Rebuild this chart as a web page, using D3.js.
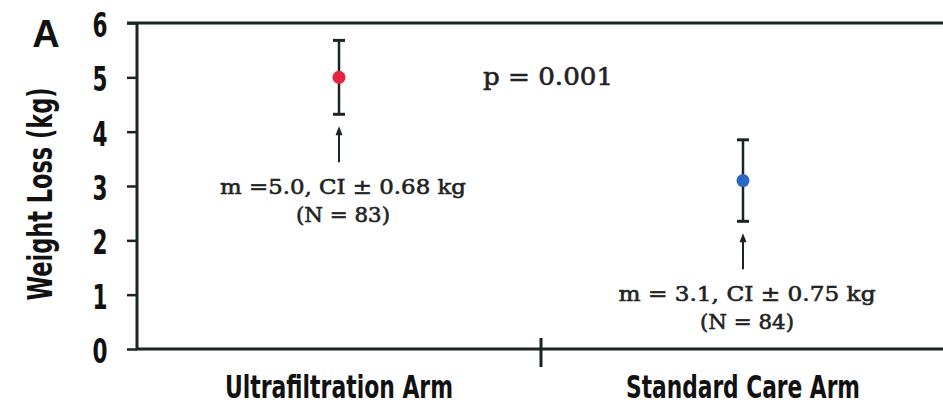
<!DOCTYPE html>
<html>
<head>
<meta charset="utf-8">
<script src="https://cdn.jsdelivr.net/npm/d3@7"></script>
<style>
  body { margin: 0; background: #fff; }
  .cond { font-family: "Liberation Sans Narrow", "DejaVu Sans Condensed", "Liberation Sans", sans-serif; font-weight: bold; }
  .serif { font-family: "DejaVu Serif", "Liberation Serif", serif; }
</style>
</head>
<body>
<script>
// data
var arms = ["Ultrafiltration Arm", "Standard Care Arm"];
var means = [5.0, 3.1];
var ci = [0.68, 0.75];
var nCount = [83, 84];
var dotColors = ["#e8243c", "#2a68c2"];
var noteLines = [["m =5.0, CI \u00b1 0.68 kg", "(N = 83)"], ["m = 3.1, CI \u00b1 0.75 kg", "(N = 84)"]];
var yTicks = [0, 1, 2, 3, 4, 5, 6];
var pText = "p = 0.001";

var W = 943, H = 411;
var ink = "#1b2421";

var svg = d3.select("body").append("svg")
    .attr("width", W).attr("height", H);

var x = d3.scaleBand().domain(arms).range([137, 945]).padding(0);
var y = d3.scaleLinear().domain([0, 6]).range([349, 23]);

// y axis ticks and labels
var yAxis = svg.append("g")
    .attr("transform", "translate(137,0)")
    .call(d3.axisLeft(y).tickValues(yTicks).tickSize(10).tickPadding(27).tickFormat(d3.format("d")));
yAxis.select(".domain").remove();
yAxis.selectAll(".tick line").attr("stroke", ink).attr("stroke-width", 2.5);
yAxis.selectAll(".tick text")
    .attr("class", "cond")
    .attr("fill", "#111")
    .attr("font-size", 34)
    .attr("textLength", 15)
    .attr("lengthAdjust", "spacingAndGlyphs")
    .attr("text-anchor", "middle")
    .attr("dy", "0.4em");

// frame: left, top, bottom (image is cropped on the right)
svg.append("path")
    .attr("d", "M127," + y(6) + "H" + W + "M137," + y(6) + "V" + y(0) + "H" + W)
    .attr("fill", "none").attr("stroke", ink).attr("stroke-width", 3);

// middle tick on x axis
svg.append("line")
    .attr("x1", x(arms[1])).attr("x2", x(arms[1]))
    .attr("y1", y(0) - 11).attr("y2", y(0) + 18)
    .attr("stroke", ink).attr("stroke-width", 3);

// x labels
svg.selectAll(".xlab").data(arms).enter().append("text")
    .attr("class", "cond")
    .attr("x", function(d){ return x(d) + x.bandwidth() / 2; })
    .attr("y", 398)
    .attr("text-anchor", "middle")
    .attr("font-size", 32)
    .attr("textLength", function(d, i){ return i == 0 ? 228 : 234; })
    .attr("lengthAdjust", "spacingAndGlyphs")
    .attr("fill", "#111")
    .text(function(d){ return d; });

// y title
svg.append("text")
    .attr("class", "cond")
    .attr("transform", "translate(52,194) rotate(-90)")
    .attr("text-anchor", "middle")
    .attr("font-size", 34)
    .attr("textLength", 213)
    .attr("lengthAdjust", "spacingAndGlyphs")
    .attr("fill", "#111")
    .text("Weight Loss (kg)");

// panel letter
svg.append("text")
    .attr("x", 46).attr("y", 47)
    .attr("text-anchor", "middle")
    .attr("font-family", "Liberation Sans, Arial, sans-serif")
    .attr("font-weight", "bold")
    .attr("font-size", 38)
    .attr("fill", "#111")
    .text("A");

// error bars
var pts = arms.map(function(a, i){ return {arm: a, m: means[i], ci: ci[i], n: nCount[i], color: dotColors[i], lines: noteLines[i]}; });
var cx = function(d){ return x(d.arm) + x.bandwidth() / 2; };

var g = svg.selectAll(".pt").data(pts).enter().append("g").attr("class", "pt");
g.append("line")
    .attr("x1", cx).attr("x2", cx)
    .attr("y1", function(d){ return y(d.m + d.ci); })
    .attr("y2", function(d){ return y(d.m - d.ci); })
    .attr("stroke", ink).attr("stroke-width", 2.5);
g.selectAll(".cap").data(function(d){ return [d.m + d.ci, d.m - d.ci].map(function(v){ return {x: cx(d), v: v}; }); })
    .enter().append("line")
    .attr("x1", function(c){ return c.x - 6; }).attr("x2", function(c){ return c.x + 6; })
    .attr("y1", function(c){ return y(c.v); }).attr("y2", function(c){ return y(c.v); })
    .attr("stroke", ink).attr("stroke-width", 3);
g.append("circle")
    .attr("cx", cx).attr("cy", function(d){ return y(d.m); })
    .attr("r", 6.5)
    .attr("fill", function(d){ return d.color; });

// arrows pointing up to the lower cap
g.append("line")
    .attr("x1", cx).attr("x2", cx)
    .attr("y1", function(d){ return y(d.m - d.ci) + 16; })
    .attr("y2", function(d){ return y(d.m - d.ci) + 48; })
    .attr("stroke", ink).attr("stroke-width", 2);
g.append("path")
    .attr("d", function(d){ var px = cx(d), py = y(d.m - d.ci) + 12; return "M" + px + "," + py + "L" + (px - 3.5) + "," + (py + 9) + "L" + (px + 3.5) + "," + (py + 9) + "Z"; })
    .attr("fill", ink);

// annotations (slightly stroked to match the heavier print)
g.append("text")
    .attr("class", "serif")
    .attr("x", function(d){ return cx(d) + 4; })
    .attr("y", function(d){ return y(d.m - d.ci) + 80; })
    .attr("text-anchor", "middle")
    .attr("font-size", 21)
    .attr("textLength", function(d, i){ return i == 0 ? 246 : 257; })
    .attr("lengthAdjust", "spacingAndGlyphs")
    .attr("fill", "#222").attr("stroke", "#222").attr("stroke-width", 0.6)
    .text(function(d){ return d.lines[0]; });
g.append("text")
    .attr("class", "serif")
    .attr("x", function(d){ return cx(d) + 4; })
    .attr("y", function(d){ return y(d.m - d.ci) + 108; })
    .attr("text-anchor", "middle")
    .attr("font-size", 21)
    .attr("textLength", 94)
    .attr("lengthAdjust", "spacingAndGlyphs")
    .attr("fill", "#222").attr("stroke", "#222").attr("stroke-width", 0.6)
    .text(function(d){ return d.lines[1]; });

// p value
svg.append("text")
    .attr("class", "serif")
    .attr("x", 483).attr("y", 85)
    .attr("font-size", 24)
    .attr("textLength", 130)
    .attr("lengthAdjust", "spacingAndGlyphs")
    .attr("fill", "#222").attr("stroke", "#222").attr("stroke-width", 0.6)
    .text(pText);
</script>
</body>
</html>
